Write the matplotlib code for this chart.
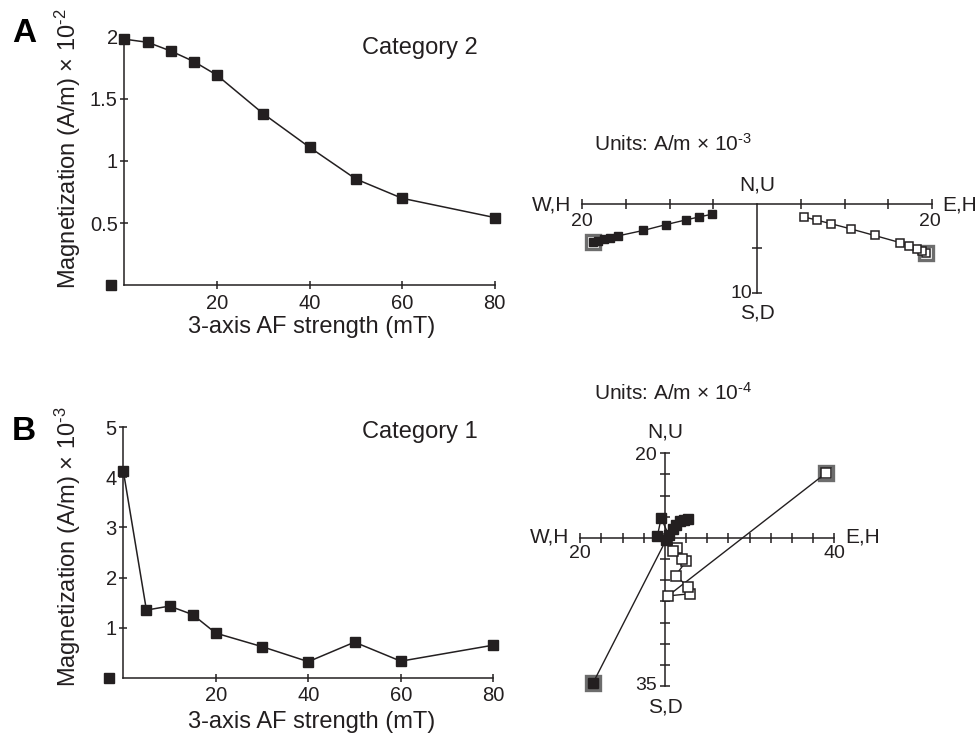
import numpy as np
import matplotlib
matplotlib.use("Agg")
import matplotlib.pyplot as plt

plt.rcParams['font.family'] = ['Liberation Sans', 'DejaVu Sans']
plt.rcParams['mathtext.fontset'] = 'custom'
plt.rcParams['mathtext.rm'] = 'Liberation Sans'
plt.rcParams['mathtext.it'] = 'Liberation Sans:italic'
plt.rcParams['mathtext.bf'] = 'Liberation Sans:bold'

# ---------------- data ----------------
af_steps = [0, 5, 10, 15, 20, 30, 40, 50, 60, 80]
mag_a = [1.98, 1.955, 1.885, 1.80, 1.69, 1.38, 1.11, 0.855, 0.70, 0.545]   # x 10^-2 A/m
mag_b = [4.13, 1.35, 1.43, 1.26, 0.89, 0.62, 0.32, 0.71, 0.33, 0.65]      # x 10^-3 A/m

xticks_left = [20, 40, 60, 80]
yticks_a = [0.5, 1, 1.5, 2]
ytick_labels_a = ['0.5', '1', '1.5', '2']
yticks_b = [1, 2, 3, 4, 5]
ytick_labels_b = ['1', '2', '3', '4', '5']

# Zijderveld A (units A/m x 10^-3)
zA_fill_x = [-18.74, -18.24, -17.56, -16.87, -15.88, -13.02, -10.46, -8.13, -6.60, -5.15]
zA_fill_y = [-4.31, -4.12, -3.93, -3.78, -3.59, -2.98, -2.33, -1.79, -1.45, -1.15]
zA_open_x = [19.27, 18.89, 18.24, 17.37, 16.34, 13.44, 10.76, 8.40, 6.87, 5.34]
zA_open_y = [-5.53, -5.34, -5.11, -4.73, -4.35, -3.55, -2.82, -2.21, -1.83, -1.45]

# Zijderveld B (units A/m x 10^-4)
zB_fill_x = [-17.0, 0.3, -1.8, -0.9, 0.9, 1.9, 2.7, 3.6, 4.6, 5.4]
zB_fill_y = [-34.3, -0.4, 0.4, 4.7, 0.6, 2.0, 3.1, 3.9, 4.3, 4.5]
zB_open_x = [38.0, 0.7, 6.0, 5.4, 2.5, 5.0, 4.1, 2.8, 1.9, 0.4]
zB_open_y = [15.3, -13.7, -13.2, -11.5, -8.9, -5.5, -5.1, -2.4, -3.0, -0.3]

# ---------------- figure ----------------
W, H = 979, 740
fig = plt.figure(figsize=(W / 100, H / 100), dpi=100)
C = '#231f20'
HY = '\u2010'


def rect(x0, yt, x1, yb):
    return [x0 / W, 1 - yb / H, (x1 - x0) / W, (yb - yt) / H]


def ftext(x, y, s, **kw):
    kw.setdefault('color', C)
    fig.text(x / W, 1 - y / H, s, **kw)


def left_panel(r, y, yticks, ylabels, ymax):
    ax = fig.add_axes(r)
    ax.plot(af_steps, y, '-', color=C, lw=1.1, marker='s', ms=6.8,
            mfc=C, mec=C, clip_on=False, zorder=3)
    ax.plot([-3], [0], 's', color=C, ms=6.5, clip_on=False)
    ax.set_xlim(0, 80)
    ax.set_ylim(0, ymax)
    ax.set_xticks(xticks_left)
    ax.set_xticklabels([str(v) for v in xticks_left])
    ax.set_yticks(yticks)
    ax.set_yticklabels(ylabels)
    for s in ['top', 'right']:
        ax.spines[s].set_visible(False)
    for s in ['left', 'bottom']:
        ax.spines[s].set_color(C)
        ax.spines[s].set_linewidth(1.1)
    ax.tick_params(direction='inout', length=6, width=1.1, color=C,
                   labelsize=14.5, labelcolor=C)
    ax.tick_params(axis='y', pad=1.8)
    ax.tick_params(axis='x', pad=3.3)
    ax.patch.set_alpha(0)
    return ax


left_panel(rect(124.5, 36.7, 494.7, 285.3), mag_a, yticks_a, ytick_labels_a, 2)
left_panel(rect(123.3, 427.3, 493.3, 677.7), mag_b, yticks_b, ytick_labels_b, 5)

ftext(68, 149, 'Magnetization (A/m) × 10$^{\\mathregular{' + HY + '2}}$', rotation=90,
      ha='center', va='center', fontsize=17)
ftext(68, 547, 'Magnetization (A/m) × 10$^{\\mathregular{' + HY + '3}}$', rotation=90,
      ha='center', va='center', fontsize=17)
ftext(312, 327, '3-axis AF strength (mT)', ha='center', va='center', fontsize=17)
ftext(312, 722, '3-axis AF strength (mT)', ha='center', va='center', fontsize=17)
ftext(362, 48, 'Category 2', ha='left', va='center', fontsize=17)
ftext(362, 432, 'Category 1', ha='left', va='center', fontsize=17)
ftext(24, 34, 'A', ha='center', va='center', fontsize=24, fontweight='bold', color='black')
ftext(24, 432, 'B', ha='center', va='center', fontsize=24, fontweight='bold', color='black')


def zij(r, xlim, ylim, fx, fy, ox, oy, tstep, ms_f, ms_o, ms_n):
    ax = fig.add_axes(r)
    ax.set_xlim(*xlim)
    ax.set_ylim(*ylim)
    ax.axis('off')
    ax.plot(list(xlim), [0, 0], color=C, lw=1.1, clip_on=False)
    ax.plot([0, 0], [ylim[0], ylim[1]], color=C, lw=1.1, clip_on=False)
    xt = [v for v in np.arange(xlim[0], xlim[1] + 0.1, tstep) if v != 0]
    yt = [v for v in np.arange(ylim[0], ylim[1] + 0.1, tstep) if v != 0]
    ax.plot(xt, [0] * len(xt), ls='none', marker='|', ms=6.5, mew=1.1, color=C, clip_on=False)
    ax.plot([0] * len(yt), yt, ls='none', marker='_', ms=6.5, mew=1.1, color=C, clip_on=False)
    # NRM highlight
    ax.plot([fx[0]], [fy[0]], 's', ms=ms_n, mfc='white', mec='#6d6d6d', mew=2.4, clip_on=False, zorder=3)
    ax.plot([ox[0]], [oy[0]], 's', ms=ms_n, mfc='white', mec='#6d6d6d', mew=2.4, clip_on=False, zorder=3)
    ax.plot(ox, oy, '-', color=C, lw=1.0, marker='s', ms=ms_o, mfc='white', mec=C, mew=1.1,
            clip_on=False, zorder=4)
    ax.plot(fx, fy, '-', color=C, lw=1.0, marker='s', ms=ms_f, mfc=C, mec=C,
            clip_on=False, zorder=5)
    return ax


zij(rect(582.3, 204, 932, 292.7), (-20, 20), (-10, 0),
    zA_fill_x, zA_fill_y, zA_open_x, zA_open_y, 5, 6.3, 5.5, 10.0)
zij(rect(580.3, 453.3, 834.3, 686), (-20, 40), (-35, 20),
    zB_fill_x, zB_fill_y, zB_open_x, zB_open_y, 5, 7.3, 6.5, 10.5)

# Zijderveld A labels
ftext(594, 144, 'Units: A/m × 10$^{\\mathregular{' + HY + '3}}$', ha='left', va='center', fontsize=15)
ftext(757, 185, 'N,U', ha='center', va='center', fontsize=15)
ftext(757, 313, 'S,D', ha='center', va='center', fontsize=15)
ftext(571, 205, 'W,H', ha='right', va='center', fontsize=15)
ftext(942, 205, 'E,H', ha='left', va='center', fontsize=15)
ftext(582, 222, '20', ha='center', va='center', fontsize=14)
ftext(930, 222, '20', ha='center', va='center', fontsize=14)
ftext(752, 293, '10', ha='right', va='center', fontsize=14)

# Zijderveld B labels
ftext(594, 393, 'Units: A/m × 10$^{\\mathregular{' + HY + '4}}$', ha='left', va='center', fontsize=15)
ftext(665, 432, 'N,U', ha='center', va='center', fontsize=15)
ftext(665, 707, 'S,D', ha='center', va='center', fontsize=15)
ftext(569, 537, 'W,H', ha='right', va='center', fontsize=15)
ftext(845, 537, 'E,H', ha='left', va='center', fontsize=15)
ftext(580, 554, '20', ha='center', va='center', fontsize=14)
ftext(834, 554, '40', ha='center', va='center', fontsize=14)
ftext(657, 456, '20', ha='right', va='center', fontsize=14)
ftext(657, 686, '35', ha='right', va='center', fontsize=14)

fig.savefig('out.png', dpi=100)
